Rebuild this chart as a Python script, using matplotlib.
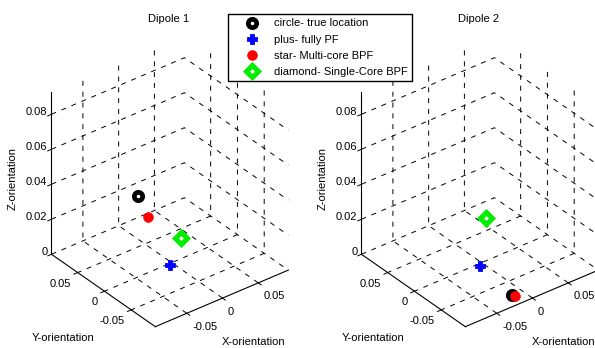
import matplotlib
matplotlib.use("Agg")
import matplotlib.pyplot as plt
from matplotlib.lines import Line2D
from mpl_toolkits.mplot3d import proj3d

plt.rcParams['font.family'] = ['Liberation Sans', 'DejaVu Sans']
plt.rcParams['font.size'] = 8
plt.rcParams['lines.scale_dashes'] = False

# Estimated dipole orientations (x, y, z) for each method
titles = ["Dipole 1", "Dipole 2"]
true_loc = [(-0.0226, 0.0324, 0.035), (-0.0139, -0.0746, 0.0)]
fully_pf = [(-0.0036, -0.0024, 0.0), (-0.0048, -0.0041, 0.0)]
multi_core = [(-0.018, 0.020, 0.025), (-0.0125, -0.0785, 0.0)]
single_core = [(0.006, -0.010, 0.015), (0.0057, -0.0013, 0.025)]

legend_labels = ["circle- true location", "plus- fully PF",
                 "star- Multi-core BPF", "diamond- Single-Core BPF"]

xticks = [-0.05, 0, 0.05]
yticks = [-0.05, 0, 0.05]
zticks = [0, 0.02, 0.04, 0.06, 0.08]
xtick_labels = ["-0.05", "0", "0.05"]
ytick_labels = ["-0.05", "0", "0.05"]
ztick_labels = ["0", "0.02", "0.04", "0.06", "0.08"]

xlim = (-0.094, 0.092)
ylim = (-0.095, 0.099)
zlim = (0, 0.093)

styles = [
    dict(marker='o', color='black', mfc='white', mec='black', ms=6.0, mew=3.4),
    dict(marker='P', color='blue', mfc='blue', mec='blue', ms=7.2, mew=0.6),
    dict(marker='o', color='red', mfc='red', mec='red', ms=7, mew=0.5),
    dict(marker='D', color='#00ee00', mfc='white', mec='#00ee00', ms=6.4, mew=3.6),
]

fig = plt.figure(figsize=(5.95, 3.48), dpi=100)
W, H = 595.0, 348.0

centers = [(165.7, 185.0), (475.7, 185.0)]
aw, ah = 0.52, 0.98
grid_dash = (0, (3.6, 4.2))

axes = []
for i in range(2):
    cx, cy = centers[i]
    rect = (cx / W - aw / 2, (H - cy) / H - ah / 2, aw, ah)
    ax = fig.add_axes(rect, projection='3d')
    ax.set_proj_type('ortho')
    ax.view_init(elev=33, azim=-128)
    ax.set_box_aspect((1, 1, 1.15), zoom=0.965)
    for axis in (ax.xaxis, ax.yaxis, ax.zaxis):
        axis.set_pane_color((1, 1, 1, 0))
        axis.line.set_color('black')
        axis.line.set_linewidth(0.8)
        axis._axinfo['grid']['color'] = 'black'
        axis._axinfo['grid']['linewidth'] = 0.7
        axis._axinfo['grid']['linestyle'] = grid_dash
        axis._axinfo['tick']['inward_factor'] = 0.35
        axis._axinfo['tick']['outward_factor'] = 0.0
        axis._axinfo['tick']['linewidth'] = {True: 0.7, False: 0.5}
    ax.set_xlim(*xlim)
    ax.set_ylim(*ylim)
    ax.set_zlim(*zlim)
    ax.set_xticks(xticks)
    ax.set_yticks(yticks)
    ax.set_zticks(zticks)
    # tick labels are written separately below, aligned to the tick marks
    ax.set_xticklabels([])
    ax.set_yticklabels([])
    ax.set_zticklabels([])

    series = [true_loc[i], fully_pf[i], multi_core[i], single_core[i]]
    for pt, st in zip(series, styles):
        ax.plot([pt[0]], [pt[1]], [pt[2]], linestyle='none', **st)
    axes.append(ax)

fig.canvas.draw()


def to_pixels(ax, x, y, z):
    px, py, _ = proj3d.proj_transform(x, y, z, ax.M)
    return ax.transData.transform((px, py))


for ax in axes:
    for v, lab in zip(zticks, ztick_labels):
        X, Y = to_pixels(ax, xlim[0], ylim[1], v)
        fig.text((X - 4) / W, (Y + 2) / H, lab, ha='right', va='center', fontsize=8)
    for v, lab in zip(yticks, ytick_labels):
        X, Y = to_pixels(ax, xlim[0], v, zlim[0])
        fig.text((X - 6.5) / W, (Y - 11) / H, lab, ha='right', va='center', fontsize=8)
    for v, lab in zip(xticks, xtick_labels):
        X, Y = to_pixels(ax, v, ylim[0], zlim[0])
        fig.text((X + 5.5) / W, (Y - 13.5) / H, lab, ha='left', va='center', fontsize=8)

# Titles and axis labels placed in figure pixels
dx = [0, 310]
for i in range(2):
    fig.text((169 + dx[i]) / W, 1 - 19 / H, titles[i], ha='center', va='center', fontsize=8)
    fig.text((13 + dx[i]) / W, 1 - 178 / H, "Z-orientation", rotation=90,
             ha='center', va='center', fontsize=8)
    fig.text((63 + dx[i]) / W, 1 - 338 / H, "Y-orientation", ha='center', va='center', fontsize=8)
    fig.text((254 + dx[i]) / W, 1 - 342 / H, "X-orientation", ha='center', va='center', fontsize=8)

handles = [Line2D([], [], linestyle='none', **st) for st in styles]
fig.legend(handles, legend_labels, loc='upper left',
           bbox_to_anchor=(228 / W, 1 - 14 / H), borderaxespad=0,
           frameon=True, fancybox=False, edgecolor='black', fontsize=8,
           borderpad=0.4, labelspacing=0.55, handlelength=3.6,
           handletextpad=0.1, framealpha=1)

fig.savefig("out.png", dpi=100)
